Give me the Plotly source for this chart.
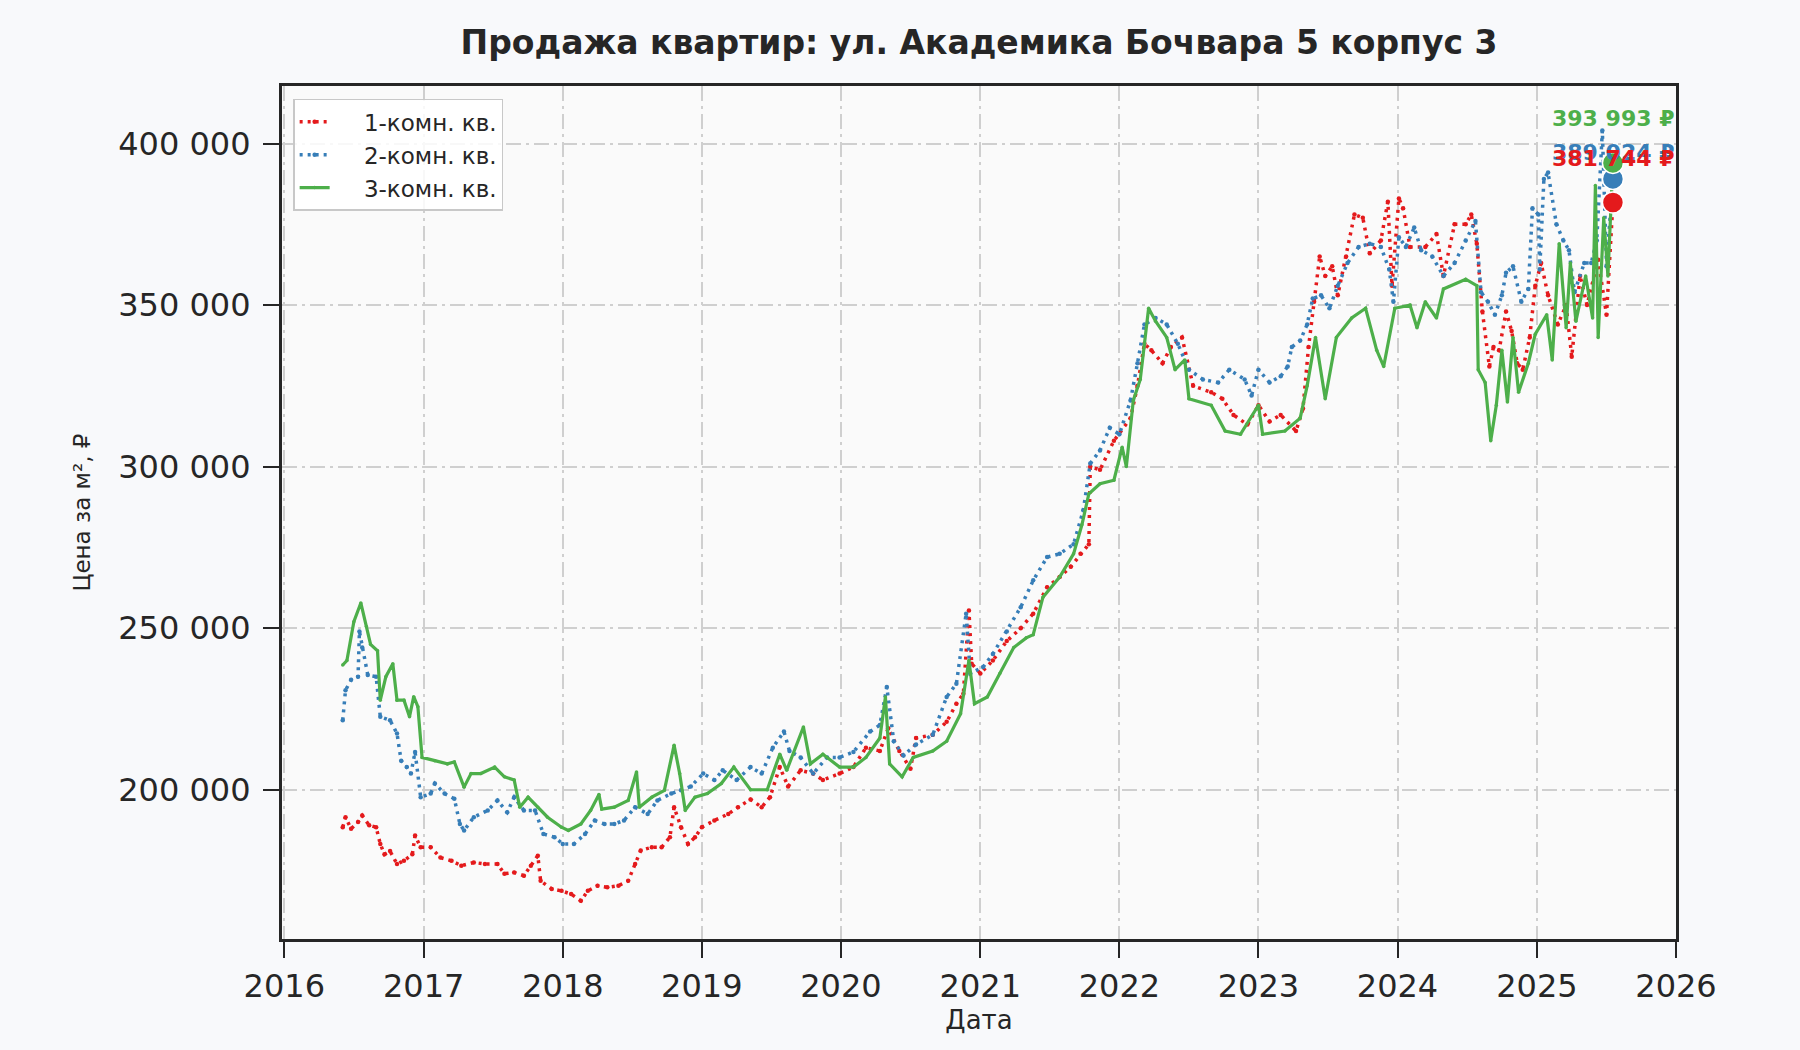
import pandas as pd
import plotly.graph_objects as go

# 1-комн. кв. (годы в долях года, цена за м²)
t1 = [2016.42, 2016.44, 2016.48, 2016.53, 2016.56, 2016.61, 2016.66, 2016.69, 2016.72, 2016.76,
      2016.81, 2016.86, 2016.92, 2016.94, 2016.98, 2017.05, 2017.12, 2017.20, 2017.27, 2017.36,
      2017.44, 2017.53, 2017.58, 2017.65, 2017.72, 2017.77, 2017.82, 2017.84, 2017.92, 2017.99,
      2018.06, 2018.13, 2018.18, 2018.25, 2018.32, 2018.40, 2018.47, 2018.52, 2018.56, 2018.64,
      2018.71, 2018.77, 2018.80, 2018.85, 2018.90, 2018.95, 2019.00, 2019.09, 2019.19, 2019.26,
      2019.35, 2019.43, 2019.49, 2019.56, 2019.62, 2019.71, 2019.80, 2019.87, 2019.99, 2020.09,
      2020.18, 2020.28, 2020.34, 2020.42, 2020.50, 2020.54, 2020.66, 2020.76, 2020.83, 2020.88,
      2020.92, 2020.94, 2021.00, 2021.09, 2021.19, 2021.29, 2021.38, 2021.48, 2021.57, 2021.65,
      2021.72, 2021.78, 2021.79, 2021.86, 2021.96, 2022.08, 2022.13, 2022.18, 2022.23, 2022.31,
      2022.37, 2022.45, 2022.53, 2022.66, 2022.74, 2022.82, 2022.92, 2023.00, 2023.08, 2023.16,
      2023.27, 2023.32, 2023.36, 2023.40, 2023.44, 2023.48, 2023.53, 2023.57, 2023.63, 2023.69,
      2023.75, 2023.80, 2023.88, 2023.93, 2023.96, 2024.01, 2024.04, 2024.09, 2024.20, 2024.28,
      2024.33, 2024.41, 2024.49, 2024.53, 2024.57, 2024.61, 2024.66, 2024.69, 2024.73, 2024.78,
      2024.82, 2024.86, 2024.90, 2024.95, 2024.99, 2025.03, 2025.08, 2025.15, 2025.21, 2025.25,
      2025.31, 2025.36, 2025.44, 2025.50, 2025.546]
p1 = [188400, 191500, 187900, 190000, 192000, 189000, 188400, 183200, 180000, 181000,
      177000, 178000, 180000, 185800, 182200, 182200, 179000, 178000, 176500, 177500,
      177000, 177000, 174000, 174400, 173400, 176500, 179600, 171800, 169300, 168700,
      167700, 165600, 168700, 170300, 169800, 170300, 171800, 177000, 181200, 182200,
      182200, 185300, 194600, 188400, 183200, 185300, 188400, 190500, 192500, 194600,
      197000, 194600, 197700, 207000, 201000, 206000, 205000, 203000, 205000, 207000,
      213000, 212000, 219000, 212000, 206500, 216000, 217000, 221000, 226600, 229700,
      255500, 239000, 236000, 240000, 246000, 250000, 254500, 262700, 265800, 269000,
      273000, 276000, 300000, 299000, 308000, 315000, 325000, 338000, 336000, 332000,
      337000, 340000, 325000, 323000, 321000, 316000, 313000, 319000, 314000, 316000,
      311000, 318000, 337000, 351000, 365000, 359000, 362000, 353000, 365000, 378000,
      377000, 366000, 370000, 382000, 356000, 383000, 380000, 368000, 368000, 372000,
      359000, 375000, 375000, 378000, 369000, 348000, 331000, 337000, 336000, 348000,
      342000, 332000, 330000, 340000, 356000, 363000, 353000, 344000, 350000, 334000,
      359000, 350000, 364000, 347000, 381744]

# 2-комн. кв.
t2 = [2016.42, 2016.44, 2016.48, 2016.53, 2016.54, 2016.56, 2016.60, 2016.66, 2016.69, 2016.76,
      2016.81, 2016.84, 2016.88, 2016.91, 2016.94, 2016.98, 2017.05, 2017.08, 2017.15, 2017.22,
      2017.26, 2017.29, 2017.36, 2017.46, 2017.53, 2017.60, 2017.65, 2017.72, 2017.80, 2017.86,
      2017.94, 2018.00, 2018.08, 2018.16, 2018.23, 2018.30, 2018.37, 2018.44, 2018.52, 2018.61,
      2018.68, 2018.78, 2018.85, 2018.92, 2019.01, 2019.09, 2019.15, 2019.25, 2019.35, 2019.43,
      2019.51, 2019.59, 2019.63, 2019.71, 2019.80, 2019.90, 2019.99, 2020.09, 2020.21, 2020.28,
      2020.33, 2020.38, 2020.45, 2020.54, 2020.66, 2020.76, 2020.83, 2020.90, 2020.93, 2021.02,
      2021.09, 2021.19, 2021.29, 2021.38, 2021.48, 2021.57, 2021.67, 2021.74, 2021.79, 2021.86,
      2021.93, 2022.00, 2022.08, 2022.13, 2022.18, 2022.26, 2022.34, 2022.42, 2022.50, 2022.60,
      2022.71, 2022.79, 2022.90, 2022.95, 2023.00, 2023.08, 2023.16, 2023.21, 2023.24, 2023.30,
      2023.35, 2023.39, 2023.45, 2023.51, 2023.57, 2023.64, 2023.72, 2023.80, 2023.88, 2023.94,
      2023.97, 2024.01, 2024.06, 2024.12, 2024.17, 2024.25, 2024.33, 2024.41, 2024.49, 2024.56,
      2024.60, 2024.65, 2024.70, 2024.75, 2024.78, 2024.83, 2024.89, 2024.94, 2024.97, 2025.01,
      2025.02, 2025.05, 2025.08, 2025.14, 2025.19, 2025.23, 2025.27, 2025.34, 2025.39, 2025.43,
      2025.47, 2025.50, 2025.546]
p2 = [221500, 230800, 234000, 235000, 249000, 244000, 235500, 235000, 222600, 221500,
      217400, 209000, 207000, 205000, 211700, 197700, 198800, 201900, 198800, 197200,
      189400, 187400, 191500, 193600, 196700, 193000, 197700, 193600, 193600, 186300,
      185300, 183200, 183200, 186300, 190500, 189400, 189400, 190500, 194600, 192500,
      196700, 198800, 199800, 201000, 205000, 203000, 206000, 203000, 207000, 205000,
      213000, 218000, 212000, 210000, 205000, 210000, 210000, 211700, 218000, 220000,
      231800, 215000, 210600, 214000, 217000, 228700, 232800, 254500, 236000, 238000,
      242000, 249000, 256500, 264800, 272000, 273000, 276000, 286500, 301000, 305000,
      312000, 310000, 320500, 332000, 344000, 346000, 344000, 338000, 330000, 327000,
      326000, 330000, 327000, 322000, 330000, 326000, 328000, 331000, 337000, 339000,
      344000, 352000, 353000, 349000, 356000, 363000, 368000, 369000, 368000, 361000,
      351000, 371000, 368000, 374000, 367000, 365000, 359000, 363000, 370000, 376000,
      354000, 351000, 347000, 353000, 360000, 362000, 351000, 355000, 380000, 378000,
      361000, 389000, 391000, 375000, 370000, 367000, 354000, 363000, 363000, 370000,
      404000, 362000, 389024]

# 3-комн. кв.
t3 = [2016.42, 2016.45, 2016.50, 2016.55, 2016.59, 2016.62, 2016.67, 2016.69, 2016.73, 2016.78,
      2016.81, 2016.86, 2016.90, 2016.93, 2016.96, 2016.99, 2017.08, 2017.17, 2017.22, 2017.29,
      2017.34, 2017.41, 2017.51, 2017.58, 2017.65, 2017.69, 2017.75, 2017.82, 2017.89, 2017.99,
      2018.04, 2018.13, 2018.20, 2018.26, 2018.28, 2018.37, 2018.47, 2018.53, 2018.55, 2018.64,
      2018.73, 2018.80, 2018.84, 2018.88, 2018.95, 2019.04, 2019.14, 2019.23, 2019.35, 2019.47,
      2019.56, 2019.61, 2019.73, 2019.78, 2019.87, 2019.99, 2020.09, 2020.18, 2020.28, 2020.32,
      2020.35, 2020.44, 2020.52, 2020.66, 2020.76, 2020.86, 2020.92, 2020.96, 2021.05, 2021.14,
      2021.24, 2021.33, 2021.38, 2021.45, 2021.57, 2021.67, 2021.73, 2021.78, 2021.86, 2021.96,
      2022.02, 2022.05, 2022.10, 2022.15, 2022.21, 2022.26, 2022.34, 2022.40, 2022.47, 2022.50,
      2022.66, 2022.76, 2022.87, 2023.00, 2023.03, 2023.19, 2023.30, 2023.35, 2023.41, 2023.48,
      2023.56, 2023.67, 2023.77, 2023.85, 2023.90, 2023.98, 2024.09, 2024.14, 2024.20, 2024.28,
      2024.33, 2024.49, 2024.57, 2024.58, 2024.63, 2024.67, 2024.71, 2024.75, 2024.79, 2024.83,
      2024.87, 2024.94, 2024.99, 2025.07, 2025.11, 2025.16, 2025.21, 2025.24, 2025.28, 2025.35,
      2025.40, 2025.42, 2025.44, 2025.48, 2025.51, 2025.546]
p3 = [238600, 240000, 252000, 257800, 250500, 245000, 243000, 227700, 235000, 239000,
      227700, 227700, 222600, 228800, 225700, 210000, 209000, 208000, 208600, 200800,
      205000, 205000, 207000, 204000, 203000, 194600, 197700, 194600, 191500, 188400,
      187400, 189400, 193600, 198500, 194000, 194600, 196700, 205500, 194600, 197700,
      199800, 213800, 205000, 193600, 197700, 198800, 201900, 207000, 200000, 200000,
      211000, 206000, 219400, 208000, 211000, 207000, 207000, 210000, 216000, 228700,
      208000, 204000, 210000, 212000, 215000, 223500, 240000, 226600, 228700, 236000,
      244000, 247000, 248000, 259600, 265800, 273000, 282000, 291600, 294700, 295800,
      306000, 300000, 320500, 327000, 349000, 345000, 340000, 330000, 333000, 321000,
      319000, 311000, 310000, 319000, 310000, 311000, 315000, 325000, 340000, 321000,
      340000, 346000, 349000, 336000, 331000, 349000, 350000, 343000, 351000, 346000,
      355000, 358000, 356000, 330000, 326000, 308000, 319000, 336000, 320000, 340000,
      323000, 332000, 341000, 347000, 333000, 369000, 343000, 363000, 345000, 359000,
      346000, 387000, 340000, 377000, 359000, 393993]

names = ["1-комн. кв.", "2-комн. кв.", "3-комн. кв."]
colors = ["#e41a1c", "#377eb8", "#4daf4a"]


def to_dates(years):
    out = []
    for y in years:
        yr = int(y)
        out.append(pd.Timestamp(yr, 1, 1) + pd.Timedelta(days=(y - yr) * 365.25))
    return out


series = [(t1, p1), (t2, p2), (t3, p3)]
font = "DejaVu Sans"
ink = "#262626"
pad = "\u00a0" * 4  # сдвиг подписи в легенде (в оригинале образец линии длиннее)

fig = go.Figure()
for i, (t, p) in enumerate(series):
    if i < 2:
        line = dict(color=colors[i], width=3.5, dash="3px,5px")
        marker = dict(size=4.5, color=colors[i])
    else:
        line = dict(color=colors[i], width=3.2)
        marker = dict(size=3.5, color=colors[i])
    fig.add_trace(go.Scatter(x=to_dates(t), y=p, mode="lines+markers", name=pad + names[i],
                             line=line, marker=marker))

# последние значения — крупные точки (зелёная сверху)
for i, (t, p) in enumerate(series):
    xd = to_dates([t[-1]])[0]
    fig.add_trace(go.Scatter(x=[xd], y=[p[-1]], mode="markers", showlegend=False,
                             marker=dict(size=21, color=colors[i], line=dict(color="white", width=1.5))))

# подписи последних значений (красная поверх синей)
shifts = [44, 26, 44]
for i in [2, 1, 0]:
    t, p = series[i]
    xd = to_dates([t[-1]])[0]
    label = f"{p[-1]:,.0f} ₽".replace(",", " ")
    fig.add_annotation(x=xd, y=p[-1], text=f"<b>{label}</b>", showarrow=False,
                       yshift=shifts[i], font=dict(family=font, size=22, color=colors[i]))

grid = dict(showgrid=True, gridcolor="#cfcfcf", gridwidth=2, griddash="15px,5px,3px,5px",
            showline=True, linecolor=ink, linewidth=3.2, mirror=True,
            ticks="outside", ticklen=16, tickwidth=2.2, tickcolor=ink,
            tickfont=dict(family=font, size=32, color=ink), zeroline=False)

fig.update_layout(
    width=1800, height=1050,
    margin=dict(l=282, r=124, t=86, b=111),
    paper_bgcolor="#f8f9fb", plot_bgcolor="#fafafa",
    separators=", ",
    title=dict(text="<b>Продажа квартир: ул. Академика Бочвара 5 корпус 3</b>",
               x=0.5, xref="paper", xanchor="center", y=1 - 42 / 1050, yanchor="middle",
               font=dict(family=font, size=33, color=ink)),
    legend=dict(x=0.008, y=0.985, xanchor="left", yanchor="top",
                bgcolor="rgba(255,255,255,0.85)", bordercolor="#c8c8c8", borderwidth=1.5,
                font=dict(family=font, size=23, color=ink)),
    showlegend=True,
)
fig.update_xaxes(type="date", range=["2015-12-26", "2026-01-01"], dtick="M12", tickformat="%Y",
                 tick0="2016-01-01",
                 title=dict(text="Дата", font=dict(family=font, size=26, color=ink), standoff=8),
                 **grid)
fig.update_yaxes(range=[153800, 417800], tickvals=[200000, 250000, 300000, 350000, 400000],
                 tickformat=",d", ticklabelstandoff=6,
                 title=dict(text="Цена за м², ₽", font=dict(family=font, size=23, color=ink), standoff=22),
                 **grid)

fig.write_html("out.html", config={"displayModeBar": False},
               post_script="document.body.style.margin='0';document.body.style.background='#f8f9fb';")
